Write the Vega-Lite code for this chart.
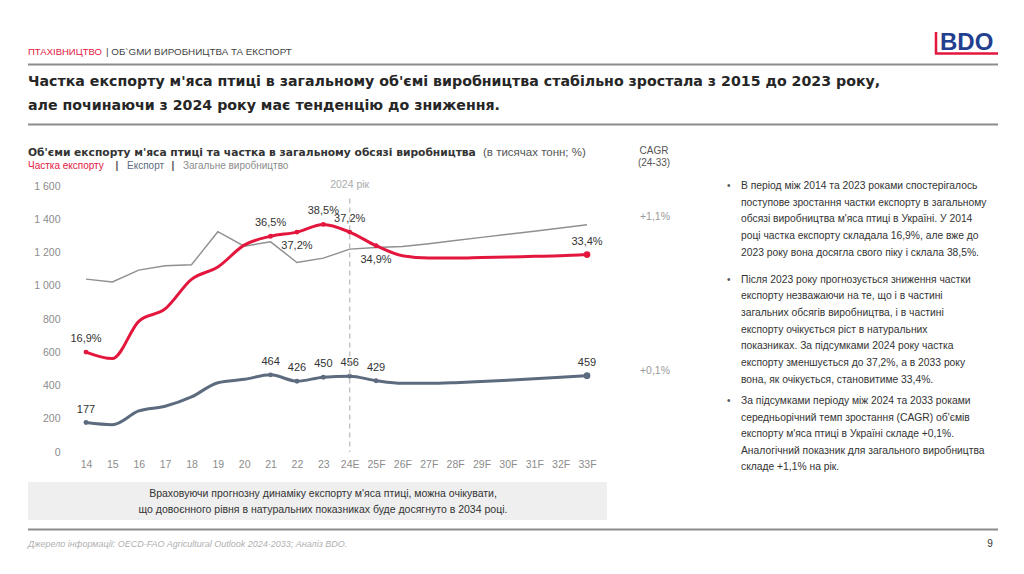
{
  "$schema": "https://vega.github.io/schema/vega-lite/v6.json",
  "background": "#ffffff",
  "padding": {"left": 27, "right": 27, "top": 0, "bottom": 0},
  "bounds": "flush",
  "spacing": 0,
  "resolve": {"scale": {"x": "independent", "y": "independent"}},
  "config": {
    "view": {"stroke": null},
    "font": "Liberation Sans",
    "text": {"font": "Liberation Sans"},
    "axis": {"ticks": false, "domain": false, "grid": false, "labelColor": "#8c8c8c", "labelFontSize": 10.5, "labelFont": "Liberation Sans", "labelOverlap": false}
  },
  "datasets": {
    "poultry": [
      {"year": "14", "total": 1040, "export": 177, "share": 16.9},
      {"year": "15", "total": 1023, "export": 164, "share": 15.8},
      {"year": "16", "total": 1094, "export": 247, "share": 22.1},
      {"year": "17", "total": 1120, "export": 275, "share": 24.2},
      {"year": "18", "total": 1126, "export": 331, "share": 29.2},
      {"year": "19", "total": 1325, "export": 417, "share": 31.3},
      {"year": "20", "total": 1238, "export": 437, "share": 35.0},
      {"year": "21", "total": 1264, "export": 464, "share": 36.5},
      {"year": "22", "total": 1140, "export": 426, "share": 37.2},
      {"year": "23", "total": 1166, "export": 450, "share": 38.5},
      {"year": "24E", "total": 1220, "export": 456, "share": 37.2},
      {"year": "25F", "total": 1230, "export": 429, "share": 34.9},
      {"year": "26F", "total": 1236, "export": 413, "share": 33.2},
      {"year": "27F", "total": 1253, "export": 413, "share": 32.8},
      {"year": "28F", "total": 1272, "export": 417, "share": 32.8},
      {"year": "29F", "total": 1291, "export": 424, "share": 32.9},
      {"year": "30F", "total": 1310, "export": 432, "share": 33.0},
      {"year": "31F", "total": 1328, "export": 440, "share": 33.1},
      {"year": "32F", "total": 1347, "export": 449, "share": 33.2},
      {"year": "33F", "total": 1367, "export": 459, "share": 33.4}
    ]
  },
  "vconcat": [
    {
      "width": 970,
      "height": 186,
      "layer": [
        {
          "data": {"values": [{"t": "ПТАХІВНИЦТВО"}]},
          "mark": {"type": "text", "align": "left", "baseline": "alphabetic", "fontSize": 9.5, "color": "#e3173e"},
          "encoding": {
            "x": {"datum": 27, "type": "quantitative", "scale": {"domain": [27, 997], "nice": false, "zero": false}, "axis": null},
            "y": {"datum": 55, "type": "quantitative", "scale": {"domain": [0, 186], "nice": false, "zero": false, "reverse": true}, "axis": null},
            "text": {"field": "t"}
          }
        },
        {
          "data": {"values": [{"t": "| ОБ`GМИ ВИРОБНИЦТВА ТА ЕКСПОРТ"}]},
          "mark": {"type": "text", "align": "left", "baseline": "alphabetic", "fontSize": 9.8, "color": "#444444"},
          "encoding": {
            "x": {"datum": 105, "type": "quantitative", "scale": {"domain": [27, 997], "nice": false, "zero": false}, "axis": null},
            "y": {"datum": 55, "type": "quantitative", "scale": {"domain": [0, 186], "nice": false, "zero": false, "reverse": true}, "axis": null},
            "text": {"field": "t"}
          }
        },
        {
          "data": {"values": [{"t": "BDO"}]},
          "mark": {"type": "text", "align": "left", "baseline": "alphabetic", "fontSize": 24, "fontWeight": "bold", "color": "#233f8f"},
          "encoding": {
            "x": {"datum": 939, "type": "quantitative", "scale": {"domain": [27, 997], "nice": false, "zero": false}, "axis": null},
            "y": {"datum": 49.5, "type": "quantitative", "scale": {"domain": [0, 186], "nice": false, "zero": false, "reverse": true}, "axis": null},
            "text": {"field": "t"}
          }
        },
        {
          "data": {"values": [{"t": "logo"}]},
          "mark": {"type": "rule", "color": "#e3173e", "strokeWidth": 2.5},
          "encoding": {
            "x": {"datum": 935, "type": "quantitative", "scale": {"domain": [27, 997], "nice": false, "zero": false}, "axis": null},
            "y": {"datum": 32, "type": "quantitative", "scale": {"domain": [0, 186], "nice": false, "zero": false, "reverse": true}, "axis": null},
            "y2": {"datum": 54}
          }
        },
        {
          "data": {"values": [{"t": "logo"}]},
          "mark": {"type": "rule", "color": "#e3173e", "strokeWidth": 2.5},
          "encoding": {
            "x": {"datum": 934, "type": "quantitative", "scale": {"domain": [27, 997], "nice": false, "zero": false}, "axis": null},
            "x2": {"datum": 997},
            "y": {"datum": 53.5, "type": "quantitative", "scale": {"domain": [0, 186], "nice": false, "zero": false, "reverse": true}, "axis": null}
          }
        },
        {
          "data": {"values": [{"t": "top rule"}]},
          "mark": {"type": "rule", "color": "#8c8c8c", "strokeWidth": 2},
          "encoding": {
            "x": {"datum": 27, "type": "quantitative", "scale": {"domain": [27, 997], "nice": false, "zero": false}, "axis": null},
            "x2": {"datum": 997},
            "y": {"datum": 64.5, "type": "quantitative", "scale": {"domain": [0, 186], "nice": false, "zero": false, "reverse": true}, "axis": null}
          }
        },
        {
          "data": {"values": [{"t": "Частка експорту м'яса птиці в загальному об'ємі виробництва стабільно зростала з 2015 до 2023 року,\nале починаючи з 2024 року має тенденцію до зниження."}]},
          "mark": {"type": "text", "align": "left", "baseline": "alphabetic", "font": "DejaVu Sans", "fontSize": 14.2, "fontWeight": "bold", "color": "#262626", "lineBreak": "\n", "lineHeight": 24},
          "encoding": {
            "x": {"datum": 27, "type": "quantitative", "scale": {"domain": [27, 997], "nice": false, "zero": false}, "axis": null},
            "y": {"datum": 85.5, "type": "quantitative", "scale": {"domain": [0, 186], "nice": false, "zero": false, "reverse": true}, "axis": null},
            "text": {"field": "t"}
          }
        },
        {
          "data": {"values": [{"t": "headline rule"}]},
          "mark": {"type": "rule", "color": "#8c8c8c", "strokeWidth": 2},
          "encoding": {
            "x": {"datum": 27, "type": "quantitative", "scale": {"domain": [27, 997], "nice": false, "zero": false}, "axis": null},
            "x2": {"datum": 997},
            "y": {"datum": 124.5, "type": "quantitative", "scale": {"domain": [0, 186], "nice": false, "zero": false, "reverse": true}, "axis": null}
          }
        },
        {
          "data": {"values": [{"t": "Об'єми експорту м'яса птиці та частка в загальному обсязі виробництва"}]},
          "mark": {"type": "text", "align": "left", "baseline": "alphabetic", "font": "DejaVu Sans", "fontSize": 10.7, "fontWeight": "bold", "color": "#333333"},
          "encoding": {
            "x": {"datum": 27, "type": "quantitative", "scale": {"domain": [27, 997], "nice": false, "zero": false}, "axis": null},
            "y": {"datum": 156, "type": "quantitative", "scale": {"domain": [0, 186], "nice": false, "zero": false, "reverse": true}, "axis": null},
            "text": {"field": "t"}
          }
        },
        {
          "data": {"values": [{"t": "(в тисячах тонн; %)"}]},
          "mark": {"type": "text", "align": "left", "baseline": "alphabetic", "fontSize": 11.5, "color": "#555555"},
          "encoding": {
            "x": {"datum": 482, "type": "quantitative", "scale": {"domain": [27, 997], "nice": false, "zero": false}, "axis": null},
            "y": {"datum": 156, "type": "quantitative", "scale": {"domain": [0, 186], "nice": false, "zero": false, "reverse": true}, "axis": null},
            "text": {"field": "t"}
          }
        },
        {
          "data": {"values": [{"t": "Частка експорту"}]},
          "mark": {"type": "text", "align": "left", "baseline": "alphabetic", "fontSize": 10, "color": "#e3173e"},
          "encoding": {
            "x": {"datum": 27, "type": "quantitative", "scale": {"domain": [27, 997], "nice": false, "zero": false}, "axis": null},
            "y": {"datum": 168.5, "type": "quantitative", "scale": {"domain": [0, 186], "nice": false, "zero": false, "reverse": true}, "axis": null},
            "text": {"field": "t"}
          }
        },
        {
          "data": {"values": [{"t": "|"}]},
          "mark": {"type": "text", "align": "center", "baseline": "alphabetic", "fontSize": 10, "fontWeight": "bold", "color": "#555555"},
          "encoding": {
            "x": {"datum": 116, "type": "quantitative", "scale": {"domain": [27, 997], "nice": false, "zero": false}, "axis": null},
            "y": {"datum": 168.5, "type": "quantitative", "scale": {"domain": [0, 186], "nice": false, "zero": false, "reverse": true}, "axis": null},
            "text": {"field": "t"}
          }
        },
        {
          "data": {"values": [{"t": "Експорт"}]},
          "mark": {"type": "text", "align": "left", "baseline": "alphabetic", "fontSize": 10, "color": "#5c6b7e"},
          "encoding": {
            "x": {"datum": 126, "type": "quantitative", "scale": {"domain": [27, 997], "nice": false, "zero": false}, "axis": null},
            "y": {"datum": 168.5, "type": "quantitative", "scale": {"domain": [0, 186], "nice": false, "zero": false, "reverse": true}, "axis": null},
            "text": {"field": "t"}
          }
        },
        {
          "data": {"values": [{"t": "|"}]},
          "mark": {"type": "text", "align": "center", "baseline": "alphabetic", "fontSize": 10, "fontWeight": "bold", "color": "#555555"},
          "encoding": {
            "x": {"datum": 172, "type": "quantitative", "scale": {"domain": [27, 997], "nice": false, "zero": false}, "axis": null},
            "y": {"datum": 168.5, "type": "quantitative", "scale": {"domain": [0, 186], "nice": false, "zero": false, "reverse": true}, "axis": null},
            "text": {"field": "t"}
          }
        },
        {
          "data": {"values": [{"t": "Загальне виробництво"}]},
          "mark": {"type": "text", "align": "left", "baseline": "alphabetic", "fontSize": 10, "color": "#8c8c8c"},
          "encoding": {
            "x": {"datum": 182, "type": "quantitative", "scale": {"domain": [27, 997], "nice": false, "zero": false}, "axis": null},
            "y": {"datum": 168.5, "type": "quantitative", "scale": {"domain": [0, 186], "nice": false, "zero": false, "reverse": true}, "axis": null},
            "text": {"field": "t"}
          }
        },
        {
          "data": {"values": [{"t": "CAGR\n(24-33)"}]},
          "mark": {"type": "text", "align": "center", "baseline": "alphabetic", "fontSize": 10, "color": "#555555", "lineBreak": "\n", "lineHeight": 11.5},
          "encoding": {
            "x": {"datum": 653, "type": "quantitative", "scale": {"domain": [27, 997], "nice": false, "zero": false}, "axis": null},
            "y": {"datum": 154, "type": "quantitative", "scale": {"domain": [0, 186], "nice": false, "zero": false, "reverse": true}, "axis": null},
            "text": {"field": "t"}
          }
        },
        {
          "data": {"values": [{"t": "+1,1%"}]},
          "mark": {"type": "text", "align": "center", "baseline": "alphabetic", "fontSize": 10.5, "color": "#9a9a9a"},
          "encoding": {
            "x": {"datum": 654, "type": "quantitative", "scale": {"domain": [27, 997], "nice": false, "zero": false}, "axis": null},
            "y": {"datum": 220, "type": "quantitative", "scale": {"domain": [0, 186], "nice": false, "zero": false, "reverse": true}, "axis": null},
            "text": {"field": "t"}
          }
        },
        {
          "data": {"values": [{"t": "+0,1%"}]},
          "mark": {"type": "text", "align": "center", "baseline": "alphabetic", "fontSize": 10.5, "color": "#9a9a9a"},
          "encoding": {
            "x": {"datum": 654, "type": "quantitative", "scale": {"domain": [27, 997], "nice": false, "zero": false}, "axis": null},
            "y": {"datum": 374, "type": "quantitative", "scale": {"domain": [0, 186], "nice": false, "zero": false, "reverse": true}, "axis": null},
            "text": {"field": "t"}
          }
        },
        {
          "data": {"values": [{"t": "•"}]},
          "mark": {"type": "text", "align": "left", "baseline": "alphabetic", "fontSize": 10, "color": "#555555"},
          "encoding": {
            "x": {"datum": 726, "type": "quantitative", "scale": {"domain": [27, 997], "nice": false, "zero": false}, "axis": null},
            "y": {"datum": 189, "type": "quantitative", "scale": {"domain": [0, 186], "nice": false, "zero": false, "reverse": true}, "axis": null},
            "text": {"field": "t"}
          }
        },
        {
          "data": {"values": [{"t": "•"}]},
          "mark": {"type": "text", "align": "left", "baseline": "alphabetic", "fontSize": 10, "color": "#555555"},
          "encoding": {
            "x": {"datum": 726, "type": "quantitative", "scale": {"domain": [27, 997], "nice": false, "zero": false}, "axis": null},
            "y": {"datum": 282.5, "type": "quantitative", "scale": {"domain": [0, 186], "nice": false, "zero": false, "reverse": true}, "axis": null},
            "text": {"field": "t"}
          }
        },
        {
          "data": {"values": [{"t": "•"}]},
          "mark": {"type": "text", "align": "left", "baseline": "alphabetic", "fontSize": 10, "color": "#555555"},
          "encoding": {
            "x": {"datum": 726, "type": "quantitative", "scale": {"domain": [27, 997], "nice": false, "zero": false}, "axis": null},
            "y": {"datum": 404, "type": "quantitative", "scale": {"domain": [0, 186], "nice": false, "zero": false, "reverse": true}, "axis": null},
            "text": {"field": "t"}
          }
        },
        {
          "data": {"values": [{"t": "В період між 2014 та 2023 роками спостерігалось\nпоступове зростання частки експорту в загальному\nобсязі виробництва м'яса птиці в Україні. У 2014\nроці частка експорту складала 16,9%, але вже до\n2023 року вона досягла свого піку і склала 38,5%."}]},
          "mark": {"type": "text", "align": "left", "baseline": "alphabetic", "fontSize": 10.3, "color": "#333333", "lineBreak": "\n", "lineHeight": 16.7},
          "encoding": {
            "x": {"datum": 740, "type": "quantitative", "scale": {"domain": [27, 997], "nice": false, "zero": false}, "axis": null},
            "y": {"datum": 189, "type": "quantitative", "scale": {"domain": [0, 186], "nice": false, "zero": false, "reverse": true}, "axis": null},
            "text": {"field": "t"}
          }
        },
        {
          "data": {"values": [{"t": "Після 2023 року прогнозується зниження частки\nекспорту незважаючи на те, що і в частині\nзагальних обсягів виробництва, і в частині\nекспорту очікується ріст в натуральних\nпоказниках. За підсумками 2024 року частка\nекспорту зменшується до 37,2%, а в 2033 року\nвона, як очікується, становитиме 33,4%."}]},
          "mark": {"type": "text", "align": "left", "baseline": "alphabetic", "fontSize": 10.3, "color": "#333333", "lineBreak": "\n", "lineHeight": 16.7},
          "encoding": {
            "x": {"datum": 740, "type": "quantitative", "scale": {"domain": [27, 997], "nice": false, "zero": false}, "axis": null},
            "y": {"datum": 282.5, "type": "quantitative", "scale": {"domain": [0, 186], "nice": false, "zero": false, "reverse": true}, "axis": null},
            "text": {"field": "t"}
          }
        },
        {
          "data": {"values": [{"t": "За підсумками періоду між 2024 та 2033 роками\nсередньорічний темп зростання (CAGR) об'ємів\nекспорту м'яса птиці в Україні складе +0,1%.\nАналогічний показник для загального виробництва\nскладе +1,1% на рік."}]},
          "mark": {"type": "text", "align": "left", "baseline": "alphabetic", "fontSize": 10.3, "color": "#333333", "lineBreak": "\n", "lineHeight": 16.5},
          "encoding": {
            "x": {"datum": 740, "type": "quantitative", "scale": {"domain": [27, 997], "nice": false, "zero": false}, "axis": null},
            "y": {"datum": 404, "type": "quantitative", "scale": {"domain": [0, 186], "nice": false, "zero": false, "reverse": true}, "axis": null},
            "text": {"field": "t"}
          }
        }
      ]
    },
    {
      "width": 617,
      "height": 266,
      "data": {"name": "poultry"},
      "transform": [
        {"calculate": "replace(format(datum.share, '.1f'), '.', ',') + '%'", "as": "shareLabel"},
        {"calculate": "format(datum.export, 'd')", "as": "exportLabel"}
      ],
      "encoding": {
        "x": {"field": "year", "type": "ordinal", "sort": null, "scale": {"type": "point", "range": [58, 559], "padding": 0}, "title": null, "axis": {"labelAngle": 0, "labelPadding": 7, "labelColor": "#8c8c8c", "labelFontSize": 10.5}}
      },
      "resolve": {"scale": {"y": "independent"}},
      "layer": [
        {
          "layer": [
            {
              "mark": {"type": "line", "color": "#8f8f8f", "strokeWidth": 1.4},
              "encoding": {
                "y": {"field": "total", "type": "quantitative", "scale": {"domain": [0, 1600], "nice": false}, "title": null,
                  "axis": {"values": [0, 200, 400, 600, 800, 1000, 1200, 1400, 1600], "labelExpr": "replace(datum.label, ',', ' ')", "offset": -34, "labelPadding": 2, "labelOverlap": false}}
              }
            },
            {
              "mark": {"type": "line", "color": "#5c6b7e", "strokeWidth": 3, "interpolate": "monotone"},
              "encoding": {
                "y": {"field": "export", "type": "quantitative", "scale": {"domain": [0, 1600], "nice": false}, "title": null,
                  "axis": {"values": [0, 200, 400, 600, 800, 1000, 1200, 1400, 1600], "labelExpr": "replace(datum.label, ',', ' ')", "offset": -34, "labelPadding": 2, "labelOverlap": false}}
              }
            },
            {
              "transform": [{"filter": {"field": "year", "oneOf": ["14", "21", "22", "23", "24E", "25F", "33F"]}}],
              "mark": {"type": "circle", "color": "#5c6b7e", "opacity": 1},
              "encoding": {
                "y": {"field": "export", "type": "quantitative", "scale": {"domain": [0, 1600], "nice": false}, "title": null,
                  "axis": {"values": [0, 200, 400, 600, 800, 1000, 1200, 1400, 1600], "labelExpr": "replace(datum.label, ',', ' ')", "offset": -34, "labelPadding": 2, "labelOverlap": false}},
                "size": {"condition": {"test": "datum.year === '33F'", "value": 45}, "value": 24}
              }
            },
            {
              "transform": [{"filter": {"field": "year", "oneOf": ["14", "21", "22", "23", "24E", "25F", "33F"]}}],
              "mark": {"type": "text", "color": "#333333", "fontSize": 11, "baseline": "alphabetic", "dy": -10},
              "encoding": {
                "y": {"field": "export", "type": "quantitative", "scale": {"domain": [0, 1600], "nice": false}, "title": null,
                  "axis": {"values": [0, 200, 400, 600, 800, 1000, 1200, 1400, 1600], "labelExpr": "replace(datum.label, ',', ' ')", "offset": -34, "labelPadding": 2, "labelOverlap": false}},
                "text": {"field": "exportLabel"}
              }
            },
            {
              "data": {"values": [{"note": "2024 рік"}]},
              "mark": {"type": "rule", "color": "#c4c4c4", "strokeWidth": 1.5, "strokeDash": [5, 4]},
              "encoding": {
                "x": {"datum": "24E", "type": "ordinal"},
                "y": {"datum": 1525, "type": "quantitative", "scale": {"domain": [0, 1600], "nice": false}, "title": null,
                  "axis": {"values": [0, 200, 400, 600, 800, 1000, 1200, 1400, 1600], "labelExpr": "replace(datum.label, ',', ' ')", "offset": -34, "labelPadding": 2, "labelOverlap": false}},
                "y2": {"datum": 0}
              }
            },
            {
              "data": {"values": [{"note": "2024 рік"}]},
              "mark": {"type": "text", "color": "#ababab", "fontSize": 10.5, "baseline": "alphabetic", "align": "center"},
              "encoding": {
                "x": {"datum": "24E", "type": "ordinal"},
                "y": {"datum": 1585, "type": "quantitative", "scale": {"domain": [0, 1600], "nice": false}, "title": null,
                  "axis": {"values": [0, 200, 400, 600, 800, 1000, 1200, 1400, 1600], "labelExpr": "replace(datum.label, ',', ' ')", "offset": -34, "labelPadding": 2, "labelOverlap": false}},
                "text": {"field": "note"}
              }
            }
          ]
        },
        {
          "layer": [
            {
              "mark": {"type": "line", "color": "#e3173e", "strokeWidth": 3, "interpolate": "monotone"},
              "encoding": {
                "y": {"field": "share", "type": "quantitative", "scale": {"domain": [0, 45], "nice": false}, "axis": null}
              }
            },
            {
              "transform": [{"filter": {"field": "year", "oneOf": ["14", "21", "22", "23", "24E", "25F", "33F"]}}],
              "mark": {"type": "circle", "color": "#e3173e", "opacity": 1},
              "encoding": {
                "y": {"field": "share", "type": "quantitative", "axis": null},
                "size": {"condition": {"test": "datum.year === '33F'", "value": 45}, "value": 24}
              }
            },
            {
              "transform": [{"filter": {"field": "year", "oneOf": ["14", "21", "23", "24E", "33F"]}}],
              "mark": {"type": "text", "color": "#333333", "fontSize": 11, "baseline": "alphabetic", "dy": -10},
              "encoding": {
                "y": {"field": "share", "type": "quantitative", "axis": null},
                "text": {"field": "shareLabel"}
              }
            },
            {
              "transform": [{"filter": {"field": "year", "oneOf": ["22", "25F"]}}],
              "mark": {"type": "text", "color": "#333333", "fontSize": 11, "baseline": "alphabetic", "dy": 17},
              "encoding": {
                "y": {"field": "share", "type": "quantitative", "axis": null},
                "text": {"field": "shareLabel"}
              }
            }
          ]
        }
      ]
    },
    {
      "width": 970,
      "height": 122,
      "layer": [
        {
          "data": {"values": [{"t": "note box"}]},
          "mark": {"type": "rect", "color": "#efefef"},
          "encoding": {
            "x": {"datum": 27, "type": "quantitative", "scale": {"domain": [27, 997], "nice": false, "zero": false}, "axis": null},
            "x2": {"datum": 606},
            "y": {"datum": 482, "type": "quantitative", "scale": {"domain": [452, 574], "nice": false, "zero": false, "reverse": true}, "axis": null},
            "y2": {"datum": 520}
          }
        },
        {
          "data": {"values": [{"t": "Враховуючи прогнозну динаміку експорту м'яса птиці, можна очікувати,\nщо довоєнного рівня в натуральних показниках буде досягнуто в 2034 році."}]},
          "mark": {"type": "text", "align": "center", "baseline": "alphabetic", "fontSize": 10.5, "color": "#333333", "lineBreak": "\n", "lineHeight": 16.5},
          "encoding": {
            "x": {"datum": 322, "type": "quantitative", "scale": {"domain": [27, 997], "nice": false, "zero": false}, "axis": null},
            "y": {"datum": 496.5, "type": "quantitative", "scale": {"domain": [452, 574], "nice": false, "zero": false, "reverse": true}, "axis": null},
            "text": {"field": "t"}
          }
        },
        {
          "data": {"values": [{"t": "footer rule"}]},
          "mark": {"type": "rule", "color": "#8c8c8c", "strokeWidth": 2},
          "encoding": {
            "x": {"datum": 27, "type": "quantitative", "scale": {"domain": [27, 997], "nice": false, "zero": false}, "axis": null},
            "x2": {"datum": 997},
            "y": {"datum": 529.5, "type": "quantitative", "scale": {"domain": [452, 574], "nice": false, "zero": false, "reverse": true}, "axis": null}
          }
        },
        {
          "data": {"values": [{"t": "Джерело інформації: OECD-FAO Agricultural Outlook 2024-2033; Аналіз BDO."}]},
          "mark": {"type": "text", "align": "left", "baseline": "alphabetic", "fontSize": 9, "fontStyle": "italic", "color": "#b0b0b0"},
          "encoding": {
            "x": {"datum": 27, "type": "quantitative", "scale": {"domain": [27, 997], "nice": false, "zero": false}, "axis": null},
            "y": {"datum": 546.5, "type": "quantitative", "scale": {"domain": [452, 574], "nice": false, "zero": false, "reverse": true}, "axis": null},
            "text": {"field": "t"}
          }
        },
        {
          "data": {"values": [{"t": "9"}]},
          "mark": {"type": "text", "align": "center", "baseline": "alphabetic", "fontSize": 10, "color": "#333333"},
          "encoding": {
            "x": {"datum": 989, "type": "quantitative", "scale": {"domain": [27, 997], "nice": false, "zero": false}, "axis": null},
            "y": {"datum": 547, "type": "quantitative", "scale": {"domain": [452, 574], "nice": false, "zero": false, "reverse": true}, "axis": null},
            "text": {"field": "t"}
          }
        }
      ]
    }
  ]
}
